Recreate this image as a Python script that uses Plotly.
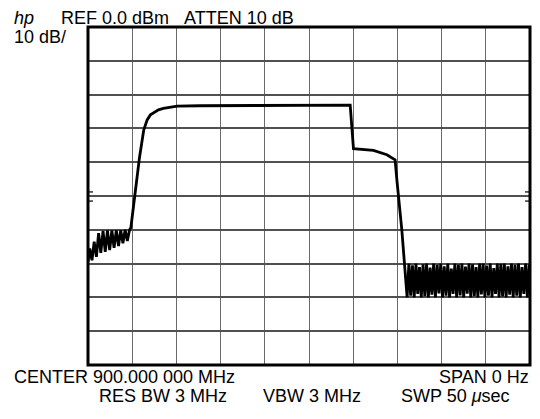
import plotly.graph_objects as go

# ---- data (time in microseconds, level in dBm) ----
LEFT_NOISE_T = [0.0, 0.2, 0.45, 0.7, 0.95, 1.2, 1.45, 1.7, 1.95, 2.2, 2.45, 2.7, 2.95,
                3.2, 3.45, 3.7, 3.95, 4.2, 4.45, 4.7]
LEFT_NOISE_DB = [-69.5, -65.5, -69.0, -63.5, -68.0, -61.0, -66.8, -60.3, -66.5, -60.2, -66.0,
                 -60.2, -65.3, -60.1, -64.8, -60.1, -64.0, -60.0, -63.3, -60.0]

BURST_T = [4.85, 5.37, 5.82, 6.31, 6.69, 7.06, 7.4, 7.97, 8.53, 9.32, 10.08, 12.7, 15.0,
           20.0, 25.0, 29.66, 30.03, 32.29, 33.81, 34.4, 34.74, 34.94, 35.5]
BURST_DB = [-59.4, -48.1, -38.7, -30.4, -27.5, -26.0, -25.4, -24.5, -24.1, -23.7, -23.4,
            -23.3, -23.3, -23.2, -23.2, -23.1, -36.0, -36.5, -37.8, -38.6, -39.3, -45.2, -60.0]

RIGHT_NOISE_T = [36.1, 36.3, 36.5, 36.7, 36.9, 37.1, 37.3, 37.5, 37.7, 37.9,
                 38.1, 38.3, 38.5, 38.7, 38.9, 39.1, 39.3, 39.5, 39.7, 39.9,
                 40.1, 40.3, 40.5, 40.7, 40.9, 41.1, 41.3, 41.5, 41.7, 41.9,
                 42.1, 42.3, 42.5, 42.7, 42.9, 43.1, 43.3, 43.5, 43.7, 43.9,
                 44.1, 44.3, 44.5, 44.7, 44.9, 45.1, 45.3, 45.5, 45.7, 45.9,
                 46.1, 46.3, 46.5, 46.7, 46.9, 47.1, 47.3, 47.5, 47.7, 47.9,
                 48.1, 48.3, 48.5, 48.7, 48.9, 49.1, 49.3, 49.5, 49.7, 49.9, 50.0]
RIGHT_NOISE_DB = [-80.0, -70.0, -79.5, -70.5, -80.0, -70.0, -79.0, -71.0, -80.0, -70.2,
                  -79.6, -70.0, -80.0, -71.2, -79.2, -70.0, -80.0, -70.4, -78.8, -70.0,
                  -80.0, -70.8, -79.5, -70.0, -80.0, -71.5, -79.0, -70.0, -80.0, -70.3,
                  -79.4, -70.0, -80.0, -70.9, -78.9, -70.0, -80.0, -70.2, -79.6, -71.0,
                  -80.0, -70.0, -79.1, -70.0, -80.0, -70.6, -79.5, -70.0, -80.0, -71.3,
                  -79.0, -70.0, -80.0, -70.1, -79.7, -70.0, -80.0, -70.8, -79.2, -70.0,
                  -80.0, -70.4, -79.5, -70.0, -80.0, -71.0, -79.0, -70.0, -80.0, -70.3, -76.0]

SWEEP_US = [0, 50]
REF_RANGE_DB = [-100, 0]
MARK_DB = [-48.8, -51.5]

HEADER_HP = "hp"
HEADER_REF = "REF 0.0 dBm"
HEADER_ATTEN = "ATTEN 10 dB"
SCALE_LABEL = "10 dB/"
CENTER_LABEL = "CENTER 900.000 000 MHz"
SPAN_LABEL = "SPAN 0 Hz"
RBW_LABEL = "RES BW 3 MHz"
VBW_LABEL = "VBW 3 MHz"
SWP_LABEL = "SWP 50 <i>μ</i>sec"

# ---- figure ----
W, H = 540, 419
L, R, T, B = 88, 10, 27, 54
PW, PH = W - L - R, H - T - B

t_all = LEFT_NOISE_T + BURST_T + RIGHT_NOISE_T
db_all = LEFT_NOISE_DB + BURST_DB + RIGHT_NOISE_DB

fig = go.Figure()
fig.add_trace(go.Scatter(x=t_all, y=db_all, mode="lines",
                         line=dict(color="black", width=2.8), hoverinfo="skip"))

fig.update_xaxes(range=SWEEP_US, dtick=5, tick0=0, showgrid=True, gridcolor="#6a6a6a",
                 gridwidth=1.4, showticklabels=False, zeroline=False, ticks="",
                 showline=False, fixedrange=True)
fig.update_yaxes(range=REF_RANGE_DB, dtick=10, tick0=0, showgrid=True, gridcolor="#505050",
                 gridwidth=1.5, showticklabels=False, zeroline=False, ticks="",
                 showline=False, fixedrange=True)

# frame
fig.add_shape(type="rect", xref="paper", yref="paper", x0=0, x1=1, y0=0, y1=1,
              line=dict(color="black", width=3))
# little display markers on both edges
for v in MARK_DB:
    fig.add_shape(type="line", xref="paper", yref="y", x0=0, x1=5 / PW, y0=v, y1=v,
                  line=dict(color="black", width=1.2))
    fig.add_shape(type="line", xref="paper", yref="y", x0=1 - 5 / PW, x1=1, y0=v, y1=v,
                  line=dict(color="black", width=1.2))


def px(xp):
    return (xp - L) / PW


def py(yp):
    return (H - B - yp) / PH


FONT = dict(family="Liberation Sans, Arial, sans-serif", size=18, color="black")


def label(text, x, y, anchor="left", italic=False):
    fig.add_annotation(text=("<i>%s</i>" % text) if italic else text,
                       xref="paper", yref="paper", x=px(x), y=py(y),
                       xanchor=anchor, yanchor="middle", showarrow=False,
                       font=dict(FONT), borderpad=0)


label(HEADER_HP, 13, 18, italic=True)
label(HEADER_REF, 60, 18)
label(HEADER_ATTEN, 183, 18)
label(SCALE_LABEL, 13, 37)
label(CENTER_LABEL, 13, 377)
label(SPAN_LABEL, 530, 377, anchor="right")
label(RBW_LABEL, 98, 396)
label(VBW_LABEL, 262, 396)
label(SWP_LABEL, 400, 396)

fig.update_layout(width=W, height=H, margin=dict(l=L, r=R, t=T, b=B),
                  paper_bgcolor="white", plot_bgcolor="white", showlegend=False)

fig.write_html("out.html")
